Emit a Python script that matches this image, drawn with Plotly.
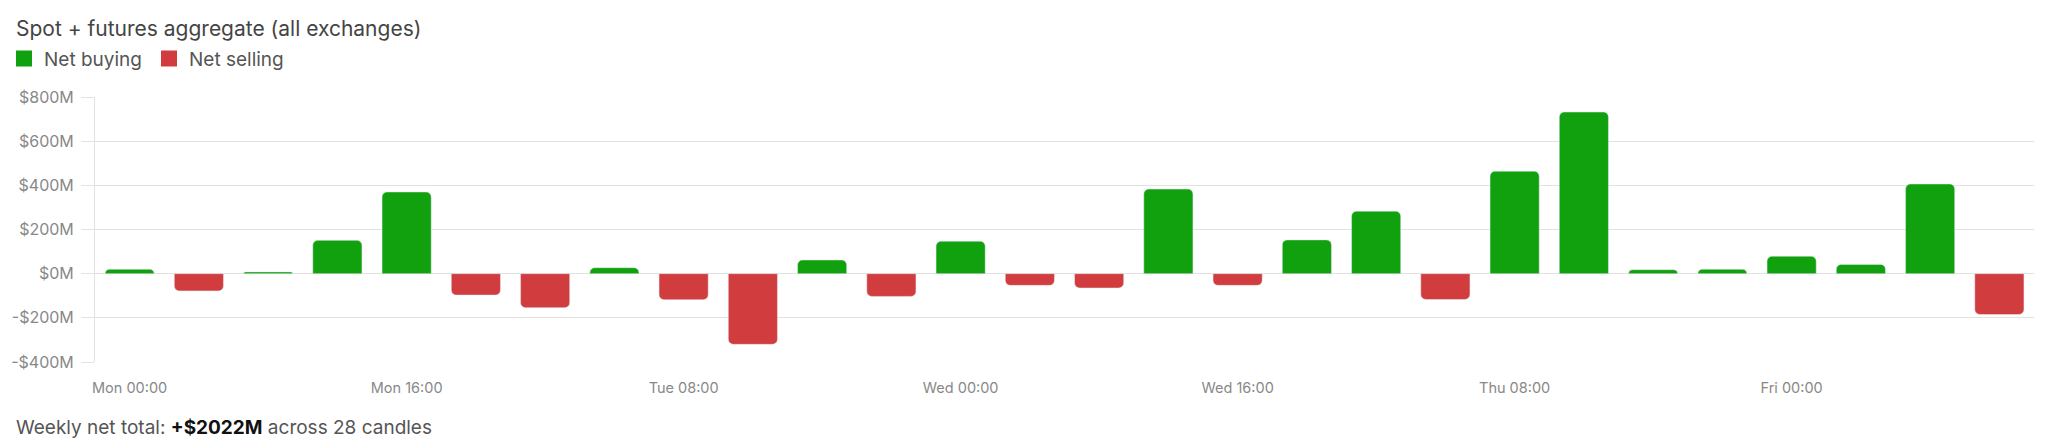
import plotly.graph_objects as go

# 4h candles, Mon 00:00 .. Fri 12:00
candles = [
    "Mon 00:00", "Mon 04:00", "Mon 08:00", "Mon 12:00", "Mon 16:00", "Mon 20:00",
    "Tue 00:00", "Tue 04:00", "Tue 08:00", "Tue 12:00", "Tue 16:00", "Tue 20:00",
    "Wed 00:00", "Wed 04:00", "Wed 08:00", "Wed 12:00", "Wed 16:00", "Wed 20:00",
    "Thu 00:00", "Thu 04:00", "Thu 08:00", "Thu 12:00", "Thu 16:00", "Thu 20:00",
    "Fri 00:00", "Fri 04:00", "Fri 08:00", "Fri 12:00",
]

# net flow per candle, $M
net_flow = [20, -78, 8, 151, 370, -97, -154, 27, -118, -320, 62, -103, 147, -53,
            -65, 383, -53, 153, 283, -117, 464, 732, 18, 20, 79, 42, 406, -185]

x_ticks = ["Mon 00:00", "Mon 16:00", "Tue 08:00", "Wed 00:00", "Wed 16:00", "Thu 08:00", "Fri 00:00"]
y_ticks = [-400, -200, 0, 200, 400, 600, 800]
y_tick_labels = ["-$400M", "-$200M", "$0M", "$200M", "$400M", "$600M", "$800M"]

GREEN = "#11a10e"
RED = "#d13d3f"
GRID = "#e3e2dd"
FONT = "Inter, Liberation Sans, Arial, sans-serif"

# page has an 8px body margin, so the figure is a bit smaller than the window
W, H = 2040, 440
ML, MR, MT, MB = 87, 14, 89, 86
plot_w = W - ML - MR
plot_h = H - MT - MB

buying = [v if v >= 0 else None for v in net_flow]
selling = [v if v < 0 else None for v in net_flow]

fig = go.Figure()
fig.add_trace(go.Bar(x=candles, y=buying, name="Net buying", showlegend=False,
                     marker=dict(color=GREEN, cornerradius=5)))
fig.add_trace(go.Bar(x=candles, y=selling, name="Net selling", showlegend=False,
                     marker=dict(color=RED, cornerradius=5)))

# bigger legend swatches than plotly's bar icons
for name, color in [("Net buying", GREEN), ("Net selling", RED)]:
    fig.add_trace(go.Scatter(x=[None], y=[None], mode="markers", name=name,
                             marker=dict(symbol="square", size=16, color=color)))

total = sum(net_flow)
sign = "+" if total >= 0 else "-"
footer = (f"Weekly net total: <b><span style='color:#111'>{sign}${abs(total)}M</span></b>"
          f" across {len(net_flow)} candles")

fig.update_layout(
    width=W, height=H,
    margin=dict(l=ML, r=MR, t=MT, b=MB, autoexpand=False),
    paper_bgcolor="white", plot_bgcolor="white",
    font=dict(family=FONT, color="#555"),
    barmode="relative",
    bargap=0.29,
    title=dict(text="Spot + futures aggregate (all exchanges)", font=dict(size=21, color="#444"),
               xref="container", x=8 / W, xanchor="left",
               yref="container", y=1 - 21 / H, yanchor="middle"),
    legend=dict(orientation="h", x=(-4 - ML) / plot_w, xanchor="left",
                yref="container", y=1 - 50.7 / H, yanchor="middle",
                font=dict(size=19, color="#555"), itemclick=False,
                entrywidth=100),
)

fig.update_xaxes(
    type="category", tickvals=x_ticks, showgrid=False, ticks="",
    tickfont=dict(size=14.5, color="#888"), ticklabelstandoff=15,
)
fig.update_yaxes(
    range=[-400, 800], tickvals=y_ticks, ticktext=y_tick_labels,
    tickfont=dict(size=16, color="#888"),
    gridcolor=GRID, zeroline=True, zerolinecolor=GRID, zerolinewidth=1,
    showline=True, linecolor=GRID, ticks="outside", ticklen=13, tickcolor=GRID,
    ticklabelstandoff=4,
)

fig.add_annotation(text=footer, xref="paper", yref="paper",
                   x=(6 - ML) / plot_w, xanchor="left",
                   y=-(419 - (H - MB)) / plot_h, yanchor="middle",
                   showarrow=False, font=dict(size=19, color="#555"))

fig.write_html("out.html")
